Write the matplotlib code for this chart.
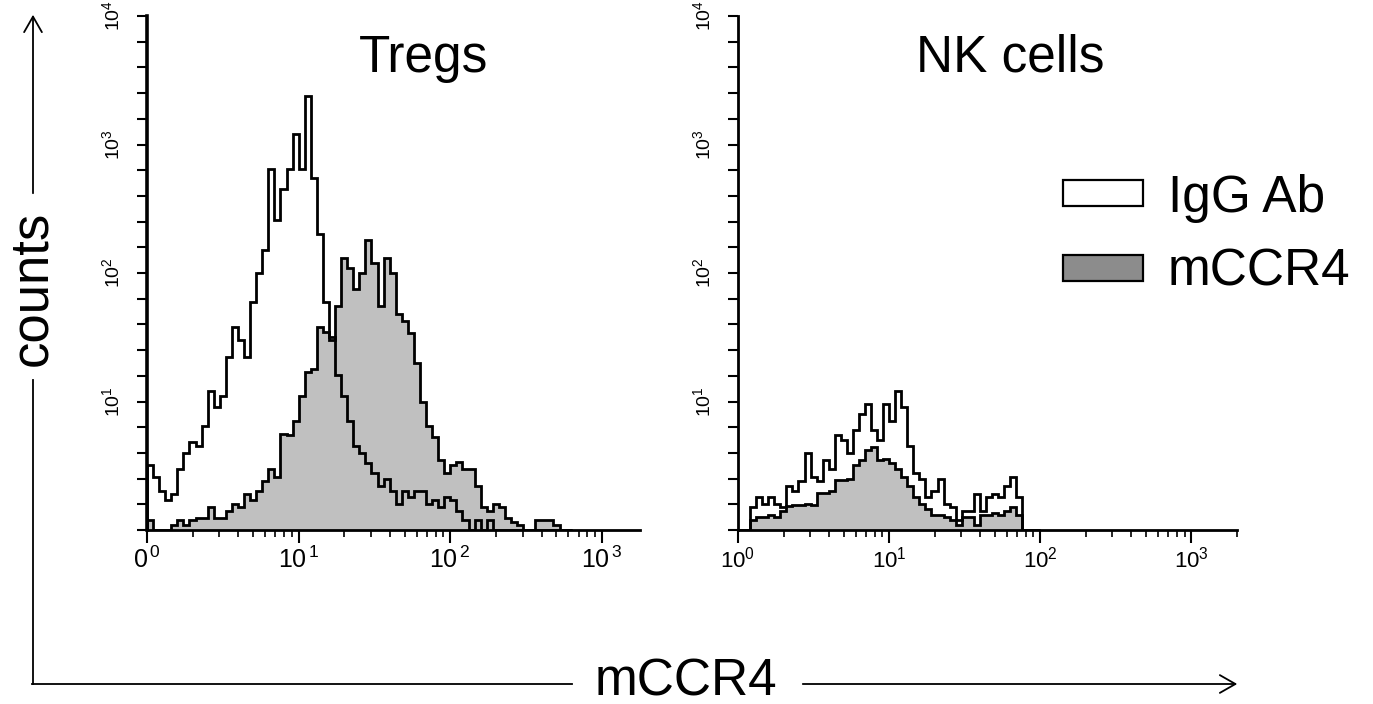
import numpy as np
import matplotlib
matplotlib.use("Agg")
import matplotlib.pyplot as plt
from matplotlib.ticker import FixedLocator, FixedFormatter, NullFormatter, LogLocator
from matplotlib.patches import Rectangle, FancyArrowPatch
from matplotlib.lines import Line2D

plt.rcParams['font.family'] = ['Liberation Sans', 'DejaVu Sans']

# ---------------- data (counts per log-spaced channel, 0.04 decade wide, starting at 10^0) ----------------
bin_width_decades = 0.04

tregs_igg = [
    3.2, 2.6, 2.0, 1.7, 1.9, 3.0, 4.0, 4.8, 4.5, 6.5,
    12, 9, 11, 22, 38, 30, 22, 60, 100, 150,
    650, 260, 450, 650, 1200, 650, 2400, 550, 200, 60,
    32, 16, 11, 7, 4.5, 4.0, 3.3, 2.8, 2.2, 2.5,
    2.0, 1.6, 2.0, 1.8, 2.0, 2.0, 1.6, 1.7, 1.5, 1.8,
    1.7, 1.4, 1.2, 1, 1.2, 1, 1.2, 1, 1, 1,
    1, 1, 1, 1, 1, 1, 1, 1, 1, 1]

tregs_ccr4 = [
    1.2, 1, 1, 1, 1.1, 1.2, 1.1, 1.2, 1.25, 1.25,
    1.5, 1.25, 1.25, 1.4, 1.6, 1.5, 1.9, 1.7, 2.0, 2.4,
    3.0, 2.6, 5.6, 5.5, 7, 11, 17, 18, 38, 35,
    30, 55, 130, 110, 75, 100, 180, 120, 55, 130,
    100, 48, 42, 34, 20, 10, 6.5, 5.3, 3.5, 2.8,
    3.2, 3.4, 3.0, 3.0, 2.2, 1.5, 1.4, 1.6, 1.5, 1.25,
    1.15, 1.1, 1, 1, 1.2, 1.2, 1.2, 1.1, 1, 1]

nk_igg = [
    1, 1, 1.5, 1.8, 1.6, 1.8, 1.6, 1.5, 2.2, 2.0,
    2.4, 4.0, 2.6, 2.4, 3.5, 3.0, 5.5, 5.0, 4.0, 6.0,
    8.0, 9.5, 6.0, 5.0, 9.5, 7.0, 12, 9, 4.5, 2.8,
    2.5, 1.8, 2.0, 2.5, 1.6, 1.5, 1.2, 1.4, 1.4, 1.9,
    1.4, 1.8, 1.9, 1.8, 2.2, 2.6, 1.8, 1, 1, 1]

nk_ccr4 = [
    1, 1, 1.2, 1.26, 1.26, 1.3, 1.26, 1.4, 1.55, 1.57,
    1.57, 1.6, 1.57, 1.95, 1.95, 2.0, 2.45, 2.45, 2.5, 3.2,
    3.5, 4.2, 4.4, 3.5, 3.6, 3.3, 3.0, 2.6, 2.2, 1.8,
    1.6, 1.45, 1.3, 1.3, 1.26, 1.2, 1.1, 1.26, 1.26, 1.1,
    1.3, 1.3, 1.35, 1.3, 1.4, 1.5, 1.3, 1, 1, 1]

panel_titles = ["Tregs", "NK cells"]
legend_labels = ["IgG Ab", "mCCR4"]
y_major = [1, 10, 100, 1000, 10000]
y_labels = ["", r"$\mathregular{10^{1}}$", r"$\mathregular{10^{2}}$",
            r"$\mathregular{10^{3}}$", r"$\mathregular{10^{4}}$"]
x_major = [1, 10, 100, 1000]
x_labels_tregs = [r"$\mathregular{0^{\,0}}$", r"$\mathregular{10^{\,1}}$",
                  r"$\mathregular{10^{\,2}}$", r"$\mathregular{10^{\,3}}$"]
x_labels_nk = [r"$\mathregular{10^{0}}$", r"$\mathregular{10^{1}}$",
               r"$\mathregular{10^{2}}$", r"$\mathregular{10^{3}}$"]

# ---------------- layout ----------------
W, H = 1373, 704
fig = plt.figure(figsize=(W / 100, H / 100), dpi=100)


def fx(px):
    return px / W


def fy(py):
    return 1 - py / H


FILL = "#c0c0c0"
LEG_FILL = "#8c8c8c"

ax1 = fig.add_axes([fx(147), fy(530), fx(640) - fx(147), fy(16) - fy(530)])
ax2 = fig.add_axes([fx(738), fy(530), fx(1237) - fx(738), fy(16) - fy(530)])

panels = [
    (ax1, tregs_igg, tregs_ccr4, 1780, x_labels_tregs, 18, 2.6, panel_titles[0], 0.56),
    (ax2, nk_igg, nk_ccr4, 2000, x_labels_nk, 16, 2.0, panel_titles[1], 0.545),
]

y_minor = [10 ** (k + 0.2 * j) for k in range(4) for j in range(1, 5)]

for ax, igg, ccr, xmax, xlabs, xfs, spw, title, tx in panels:
    edges = 10 ** (bin_width_decades * np.arange(len(igg) + 1))
    ax.stairs(ccr, edges, baseline=1, fill=True, facecolor=FILL, edgecolor="none", lw=0)
    ax.stairs(igg, edges, baseline=1, fill=False, color="black", lw=2.0)
    ax.stairs(ccr, edges, baseline=1, fill=False, color="black", lw=2.0)

    ax.set_xscale("log")
    ax.set_yscale("log")
    ax.set_xlim(1, xmax)
    ax.set_ylim(1, 1e4)

    for s in ("top", "right"):
        ax.spines[s].set_visible(False)
    ax.spines["left"].set_linewidth(spw)
    ax.spines["bottom"].set_linewidth(2.0)

    ax.yaxis.set_major_locator(FixedLocator(y_major))
    ax.yaxis.set_major_formatter(FixedFormatter(y_labels))
    ax.yaxis.set_minor_locator(FixedLocator(y_minor))
    ax.yaxis.set_minor_formatter(NullFormatter())
    ax.tick_params(axis="y", which="both", length=7, width=1.5)
    ax.tick_params(axis="y", which="major", labelsize=14, labelrotation=90, pad=10)
    for lab in ax.get_yticklabels():
        lab.set_va("center")

    ax.xaxis.set_major_locator(FixedLocator(x_major))
    ax.xaxis.set_major_formatter(FixedFormatter(xlabs))
    ax.xaxis.set_minor_locator(LogLocator(base=10, subs=np.arange(2, 10), numticks=20))
    ax.xaxis.set_minor_formatter(NullFormatter())
    ax.tick_params(axis="x", which="major", length=9, width=1.5, labelsize=xfs, pad=3)
    ax.tick_params(axis="x", which="minor", length=5, width=1.2)

    ax.text(tx, 1 - (72 - 16) / (530 - 16), title, transform=ax.transAxes,
            ha="center", va="baseline", fontsize=37)

# ---------------- legend (drawn as boxes + labels) ----------------
fig.add_artist(Rectangle((fx(1063), fy(206)), fx(80), 26 / H, transform=fig.transFigure,
                         facecolor="white", edgecolor="black", lw=1.6))
fig.add_artist(Rectangle((fx(1063), fy(281)), fx(80), 26 / H, transform=fig.transFigure,
                         facecolor=LEG_FILL, edgecolor="black", lw=1.6))
fig.text(fx(1168), fy(212), legend_labels[0], fontsize=37, va="baseline", ha="left")
fig.text(fx(1168), fy(286), legend_labels[1], fontsize=37, va="baseline", ha="left")

# ---------------- outer axis arrows ----------------
lw_arrow = 1.3
fig.add_artist(Line2D([fx(33), fx(33)], [fy(684), fy(380)], transform=fig.transFigure,
                      color="black", lw=lw_arrow))
fig.add_artist(Line2D([fx(32.4), fx(572)], [fy(684), fy(684)], transform=fig.transFigure,
                      color="black", lw=lw_arrow))
fig.add_artist(FancyArrowPatch((fx(33), fy(196)), (fx(33), fy(12)), transform=fig.transFigure,
                               arrowstyle="->,head_length=0.7,head_width=0.4",
                               mutation_scale=16, color="black", lw=lw_arrow))
fig.add_artist(FancyArrowPatch((fx(800), fy(684)), (fx(1240), fy(684)), transform=fig.transFigure,
                               arrowstyle="->,head_length=0.7,head_width=0.4",
                               mutation_scale=16, color="black", lw=lw_arrow))
fig.text(fx(32), fy(288), "counts", rotation=90, fontsize=38, ha="center", va="center")
fig.text(fx(686), fy(682), "mCCR4", fontsize=37, ha="center", va="center")

fig.savefig("out.png", dpi=100)
